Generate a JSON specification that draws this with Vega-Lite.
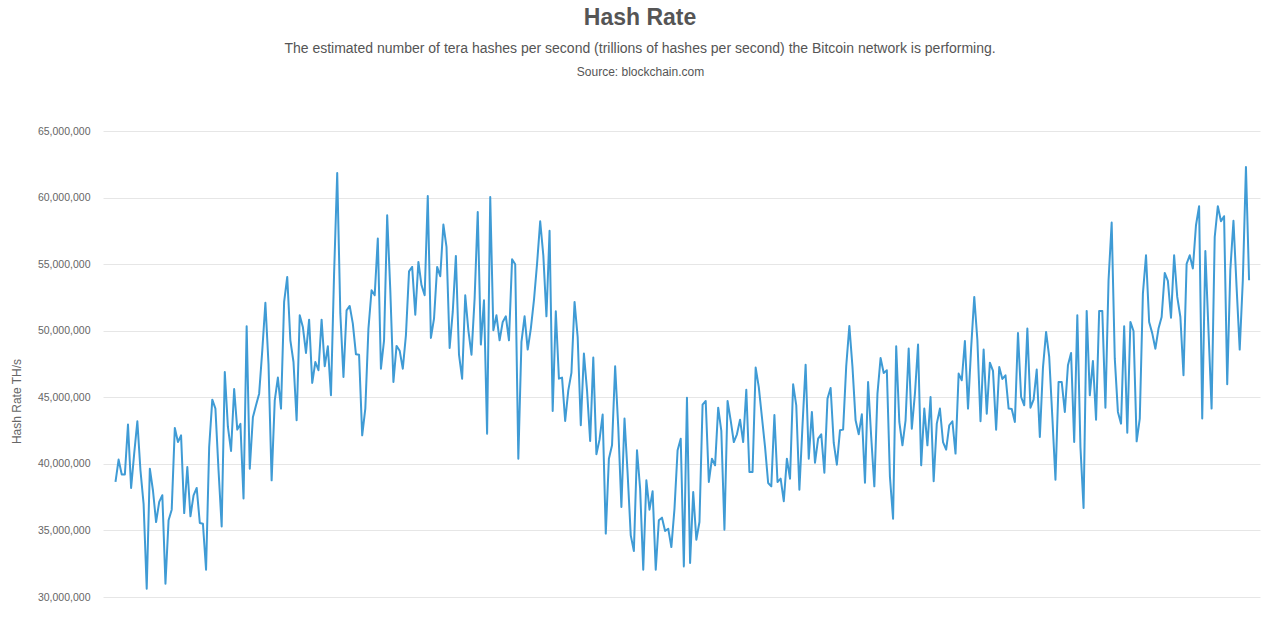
{
  "$schema": "https://vega.github.io/schema/vega-lite/v6.json",
  "width": 1157,
  "height": 466,
  "autosize": {"type": "none"},
  "padding": {"left": 103, "top": 131, "right": 20, "bottom": 25},
  "background": "white",
  "config": {"view": {"stroke": null}, "font": "Liberation Sans"},
  "title": {
    "text": "Hash Rate",
    "subtitle": "The estimated number of tera hashes per second (trillions of hashes per second) the Bitcoin network is performing.",
    "anchor": "middle",
    "frame": "group",
    "dx": -41.5,
    "fontSize": 23,
    "fontWeight": "bold",
    "color": "#555555",
    "subtitleFontSize": 14,
    "subtitleColor": "#555555",
    "subtitlePadding": 12,
    "offset": 9
  },
  "data": {"values": [
    {"d":1,"v":38640000},{"d":2,"v":40320000},{"d":3,"v":39200000},{"d":4,"v":39200000},{"d":5,"v":42950000},{"d":6,"v":38190000},{"d":7,"v":40800000},{"d":8,"v":43200000},{"d":9,"v":39500000},{"d":10,"v":37000000},
    {"d":11,"v":30620000},{"d":12,"v":39640000},{"d":13,"v":38000000},{"d":14,"v":35630000},{"d":15,"v":37140000},{"d":16,"v":37640000},{"d":17,"v":31000000},{"d":18,"v":35760000},{"d":19,"v":36560000},{"d":20,"v":42700000},
    {"d":21,"v":41640000},{"d":22,"v":42140000},{"d":23,"v":36300000},{"d":24,"v":39760000},{"d":25,"v":36060000},{"d":26,"v":37640000},{"d":27,"v":38190000},{"d":28,"v":35560000},{"d":29,"v":35500000},
    {"d":30,"v":32050000},{"d":31,"v":41270000},{"d":32,"v":44820000},{"d":33,"v":44150000},{"d":34,"v":39500000},{"d":35,"v":35300000},{"d":36,"v":46900000},{"d":37,"v":42770000},{"d":38,"v":40970000},{"d":39,"v":45620000},
    {"d":40,"v":42570000},{"d":41,"v":43000000},{"d":42,"v":37400000},{"d":43,"v":50330000},{"d":44,"v":39640000},{"d":45,"v":43500000},{"d":46,"v":44400000},{"d":47,"v":45270000},{"d":48,"v":48500000},{"d":49,"v":52100000},
    {"d":50,"v":47500000},{"d":51,"v":38760000},{"d":52,"v":44770000},{"d":53,"v":46480000},{"d":54,"v":44150000},{"d":55,"v":52160000},{"d":56,"v":54040000},{"d":57,"v":49280000},{"d":58,"v":47650000},{"d":59,"v":43270000},
    {"d":60,"v":51160000},
    {"d":61,"v":50280000},{"d":62,"v":48330000},{"d":63,"v":50830000},{"d":64,"v":46080000},{"d":65,"v":47650000},{"d":66,"v":47030000},{"d":67,"v":50830000},{"d":68,"v":47330000},{"d":69,"v":48830000},{"d":70,"v":45150000},
    {"d":71,"v":54290000},{"d":72,"v":61850000},{"d":73,"v":51280000},{"d":74,"v":46530000},{"d":75,"v":51530000},{"d":76,"v":51860000},{"d":77,"v":50530000},{"d":78,"v":48230000},{"d":79,"v":48200000},{"d":80,"v":42140000},
    {"d":81,"v":44150000},{"d":82,"v":50160000},{"d":83,"v":53040000},{"d":84,"v":52660000},{"d":85,"v":56920000},{"d":86,"v":47150000},{"d":87,"v":49280000},{"d":88,"v":58670000},{"d":89,"v":53040000},{"d":90,"v":46150000},
    {"d":91,"v":48860000},{"d":92,"v":48500000},{"d":93,"v":47150000},{"d":94,"v":49650000},{"d":95,"v":54460000},{"d":96,"v":54790000},{"d":97,"v":51200000},{"d":98,"v":55170000},{"d":99,"v":53410000},{"d":100,"v":52660000},
    {"d":101,"v":60120000},{"d":102,"v":49460000},{"d":103,"v":50910000},{"d":104,"v":54790000},{"d":105,"v":54090000},{"d":106,"v":57970000},{"d":107,"v":56290000},{"d":108,"v":48710000},{"d":109,"v":51410000},{"d":110,"v":55620000},
    {"d":111,"v":48200000},{"d":112,"v":46400000},{"d":113,"v":52660000},{"d":114,"v":50030000},{"d":115,"v":48200000},{"d":116,"v":52410000},{"d":117,"v":58920000},{"d":118,"v":48960000},{"d":119,"v":52290000},{"d":120,"v":42270000},
    {"d":121,"v":60050000},
    {"d":122,"v":50030000},{"d":123,"v":51160000},{"d":124,"v":49280000},{"d":125,"v":50660000},{"d":126,"v":51080000},{"d":127,"v":49280000},{"d":128,"v":55370000},{"d":129,"v":54990000},{"d":130,"v":40390000},
    {"d":131,"v":49160000},{"d":132,"v":51080000},{"d":133,"v":48580000},{"d":134,"v":50160000},{"d":135,"v":52290000},{"d":136,"v":55040000},{"d":137,"v":58220000},{"d":138,"v":55670000},{"d":139,"v":51080000},{"d":140,"v":57500000},
    {"d":141,"v":43970000},{"d":142,"v":51460000},{"d":143,"v":46400000},{"d":144,"v":46480000},{"d":145,"v":43220000},{"d":146,"v":45520000},{"d":147,"v":46830000},{"d":148,"v":52160000},{"d":149,"v":49530000},{"d":150,"v":42900000},
    {"d":151,"v":48280000},
    {"d":152,"v":45520000},{"d":153,"v":41720000},{"d":154,"v":47980000},{"d":155,"v":40720000},{"d":156,"v":41820000},{"d":157,"v":43700000},{"d":158,"v":34760000},{"d":159,"v":40390000},{"d":160,"v":41390000},
    {"d":161,"v":47330000},{"d":162,"v":42770000},{"d":163,"v":36760000},{"d":164,"v":43400000},{"d":165,"v":39260000},{"d":166,"v":34630000},{"d":167,"v":33450000},{"d":168,"v":41020000},{"d":169,"v":38140000},{"d":170,"v":32050000},
    {"d":171,"v":38760000},{"d":172,"v":36560000},{"d":173,"v":37940000},{"d":174,"v":32050000},{"d":175,"v":35760000},{"d":176,"v":35960000},{"d":177,"v":34960000},{"d":178,"v":35130000},{"d":179,"v":33750000},{"d":180,"v":36620000},
    {"d":181,"v":41020000},
    {"d":182,"v":41890000},{"d":183,"v":32300000},{"d":184,"v":44970000},{"d":185,"v":32550000},{"d":186,"v":37890000},{"d":187,"v":34300000},{"d":188,"v":35630000},{"d":189,"v":44450000},{"d":190,"v":44720000},
    {"d":191,"v":38640000},{"d":192,"v":40390000},{"d":193,"v":39890000},{"d":194,"v":44220000},{"d":195,"v":42470000},{"d":196,"v":35060000},{"d":197,"v":44720000},{"d":198,"v":43270000},{"d":199,"v":41640000},{"d":200,"v":42220000},
    {"d":201,"v":43320000},{"d":202,"v":41640000},{"d":203,"v":45570000},{"d":204,"v":39390000},{"d":205,"v":39390000},{"d":206,"v":47230000},{"d":207,"v":45770000},{"d":208,"v":43520000},{"d":209,"v":41270000},{"d":210,"v":38560000},
    {"d":211,"v":38310000},{"d":212,"v":43670000},
    {"d":213,"v":38640000},{"d":214,"v":38890000},{"d":215,"v":37200000},{"d":216,"v":40390000},{"d":217,"v":38890000},{"d":218,"v":45970000},{"d":219,"v":44400000},{"d":220,"v":38060000},
    {"d":221,"v":42900000},{"d":222,"v":47450000},{"d":223,"v":40390000},{"d":224,"v":43900000},{"d":225,"v":40090000},{"d":226,"v":41890000},{"d":227,"v":42220000},{"d":228,"v":39340000},{"d":229,"v":44900000},{"d":230,"v":45700000},
    {"d":231,"v":41570000},{"d":232,"v":39940000},{"d":233,"v":42520000},{"d":234,"v":42570000},{"d":235,"v":47350000},{"d":236,"v":50360000},{"d":237,"v":47280000},{"d":238,"v":43270000},{"d":239,"v":42220000},{"d":240,"v":43720000},
    {"d":241,"v":38590000},{"d":242,"v":46150000},
    {"d":243,"v":42020000},{"d":244,"v":38310000},{"d":245,"v":45270000},{"d":246,"v":47950000},{"d":247,"v":46830000},{"d":248,"v":47030000},{"d":249,"v":39010000},{"d":250,"v":35880000},
    {"d":251,"v":48830000},{"d":252,"v":43150000},{"d":253,"v":41390000},{"d":254,"v":43270000},{"d":255,"v":48660000},{"d":256,"v":42640000},{"d":257,"v":45270000},{"d":258,"v":48960000},{"d":259,"v":39890000},{"d":260,"v":44150000},
    {"d":261,"v":41390000},{"d":262,"v":45020000},{"d":263,"v":38690000},{"d":264,"v":43020000},{"d":265,"v":44150000},{"d":266,"v":41640000},{"d":267,"v":41070000},{"d":268,"v":42900000},{"d":269,"v":43200000},{"d":270,"v":40770000},
    {"d":271,"v":46780000},{"d":272,"v":46280000},{"d":273,"v":49230000},
    {"d":274,"v":44150000},{"d":275,"v":48710000},{"d":276,"v":52540000},{"d":277,"v":49280000},{"d":278,"v":43200000},{"d":279,"v":48580000},{"d":280,"v":43770000},
    {"d":281,"v":47600000},{"d":282,"v":46980000},{"d":283,"v":42570000},{"d":284,"v":47280000},{"d":285,"v":46380000},{"d":286,"v":46650000},{"d":287,"v":44150000},{"d":288,"v":44120000},{"d":289,"v":43150000},{"d":290,"v":49830000},
    {"d":291,"v":45020000},{"d":292,"v":44400000},{"d":293,"v":50160000},{"d":294,"v":44220000},{"d":295,"v":44820000},{"d":296,"v":47080000},{"d":297,"v":42020000},{"d":298,"v":47230000},{"d":299,"v":49910000},{"d":300,"v":48030000},
    {"d":301,"v":43520000},{"d":302,"v":38810000},{"d":303,"v":46150000},
    {"d":304,"v":46150000},{"d":305,"v":43900000},{"d":306,"v":47400000},{"d":307,"v":48330000},{"d":308,"v":41640000},{"d":309,"v":51160000},{"d":310,"v":41270000},
    {"d":311,"v":36680000},{"d":312,"v":51490000},{"d":313,"v":45150000},{"d":314,"v":47730000},{"d":315,"v":43320000},{"d":316,"v":51490000},{"d":317,"v":51490000},{"d":318,"v":44220000},{"d":319,"v":53790000},{"d":320,"v":58120000},
    {"d":321,"v":47900000},{"d":322,"v":43900000},{"d":323,"v":43020000},{"d":324,"v":50330000},{"d":325,"v":42340000},{"d":326,"v":50660000},{"d":327,"v":49980000},{"d":328,"v":41690000},{"d":329,"v":43400000},{"d":330,"v":52790000},
    {"d":331,"v":55670000},{"d":332,"v":50660000},{"d":333,"v":49800000},
    {"d":334,"v":48650000},{"d":335,"v":50160000},{"d":336,"v":51030000},{"d":337,"v":54340000},{"d":338,"v":53740000},{"d":339,"v":50980000},{"d":340,"v":55670000},
    {"d":341,"v":52540000},{"d":342,"v":51030000},{"d":343,"v":46650000},{"d":344,"v":55020000},{"d":345,"v":55670000},{"d":346,"v":54670000},{"d":347,"v":57920000},{"d":348,"v":59350000},{"d":349,"v":43400000},{"d":350,"v":55990000},
    {"d":351,"v":50030000},{"d":352,"v":44150000},{"d":353,"v":57040000},{"d":354,"v":59350000},{"d":355,"v":58220000},{"d":356,"v":58600000},{"d":357,"v":45980000},{"d":358,"v":54570000},{"d":359,"v":58250000},{"d":360,"v":53290000},
    {"d":361,"v":48580000},{"d":362,"v":53790000},{"d":363,"v":62300000},{"d":364,"v":53790000}
  ]},
  "mark": {"type": "line", "color": "#3f9bd5", "strokeWidth": 2, "strokeJoin": "round", "clip": true},
  "encoding": {
    "x": {
      "field": "d",
      "type": "quantitative",
      "scale": {"domain": [-3, 367.5], "nice": false, "zero": false},
      "axis": {
        "orient": "top",
        "labels": false,
        "ticks": false,
        "domain": false,
        "grid": false,
        "title": "Source: blockchain.com",
        "titleX": 537,
        "titleY": -60,
        "titleAlign": "center",
        "titleBaseline": "middle",
        "titleFontSize": 12,
        "titleFontWeight": "normal",
        "titleColor": "#555555"
      }
    },
    "y": {
      "field": "v",
      "type": "quantitative",
      "scale": {"domain": [30000000, 65000000], "nice": false, "zero": false},
      "axis": {
        "values": [30000000, 35000000, 40000000, 45000000, 50000000, 55000000, 60000000, 65000000],
        "format": ",.0f",
        "title": "Hash Rate TH/s",
        "ticks": false,
        "domain": false,
        "labelPadding": 13,
        "labelFontSize": 10.5,
        "labelColor": "#666666",
        "gridColor": "#e6e6e6",
        "titleFontSize": 12,
        "titleFontWeight": "normal",
        "titleColor": "#666666",
        "titleAngle": -90,
        "titleX": -87,
        "titleY": 270,
        "titleAlign": "center",
        "titleBaseline": "middle"
      }
    }
  }
}
